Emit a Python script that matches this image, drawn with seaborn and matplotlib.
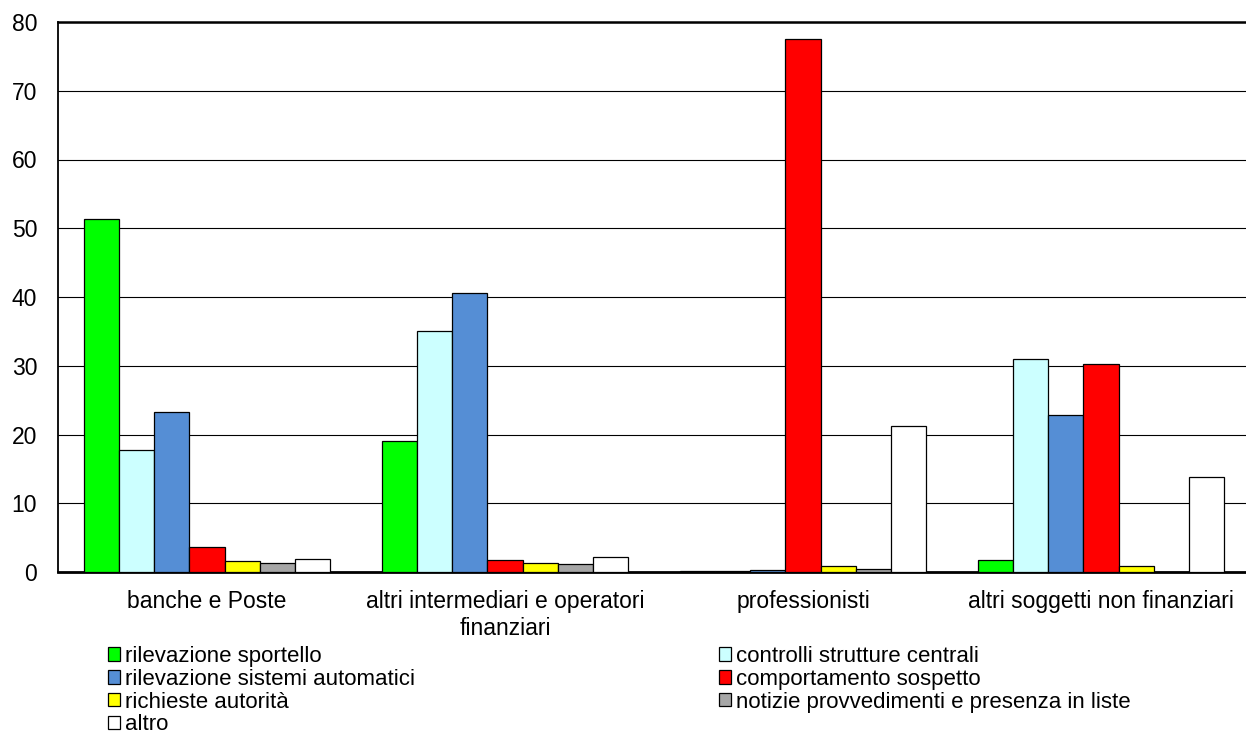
import matplotlib
matplotlib.use("Agg")
import matplotlib.pyplot as plt
import seaborn as sns
import pandas as pd

categories = ["banche e Poste", "altri intermediari e operatori\nfinanziari",
              "professionisti", "altri soggetti non finanziari"]
series = ["rilevazione sportello", "controlli strutture centrali",
          "rilevazione sistemi automatici", "comportamento sospetto",
          "richieste autorità", "notizie provvedimenti e presenza in liste",
          "altro"]
values = {
    "rilevazione sportello":                     [51.3, 19.1, 0.1, 1.75],
    "controlli strutture centrali":              [17.7, 35.1, 0.15, 31.0],
    "rilevazione sistemi automatici":            [23.3, 40.6, 0.3, 22.8],
    "comportamento sospetto":                    [3.6, 1.7, 77.5, 30.3],
    "richieste autorità":                        [1.55, 1.3, 0.85, 0.85],
    "notizie provvedimenti e presenza in liste": [1.25, 1.15, 0.45, 0.05],
    "altro":                                     [1.9, 2.2, 21.2, 13.8],
}
colors = ["#00FF00", "#CCFFFF", "#558ED5", "#FF0000", "#FFFF00", "#A6A6A6", "#FFFFFF"]
y_ticks = [0, 10, 20, 30, 40, 50, 60, 70, 80]

rows = []
for s in series:
    for c, v in zip(categories, values[s]):
        rows.append({"categoria": c, "serie": s, "valore": v})
df = pd.DataFrame(rows)

sns.set_style("white")
plt.rcParams["font.family"] = ["Liberation Sans", "DejaVu Sans"]
plt.rcParams["text.color"] = "black"
plt.rcParams["xtick.color"] = "black"
plt.rcParams["ytick.color"] = "black"

fig = plt.figure(figsize=(12.46, 7.42), dpi=100)
ax = fig.add_axes([58 / 1246, 1 - 572 / 742, 1192 / 1246, 550 / 742])

sns.barplot(data=df, x="categoria", y="valore", hue="serie",
            order=categories, hue_order=series, palette=colors,
            width=0.826, gap=0, edgecolor="black", linewidth=0.9,
            saturation=1, errorbar=None, ax=ax, legend=True, zorder=3)

ax.set_ylim(0, 80)
ax.set_yticks(y_ticks)
ax.set_xlim(-0.5, 3.5)
ax.yaxis.grid(True, color="black", linewidth=0.8, zorder=0)
ax.set_axisbelow(True)
ax.set_xlabel("")
ax.set_ylabel("")
ax.tick_params(axis="both", length=0, labelsize=16.5, colors="black")
ax.tick_params(axis="x", pad=13)
ax.tick_params(axis="y", pad=15)
for side in ["left", "bottom", "top"]:
    ax.spines[side].set_visible(True)
    ax.spines[side].set_color("black")
ax.spines["left"].set_linewidth(1.3)
ax.spines["bottom"].set_linewidth(2.0)
ax.spines["top"].set_linewidth(1.8)
ax.spines["right"].set_visible(False)

handles, labels = ax.get_legend_handles_labels()
ax.get_legend().remove()

leg_kw = dict(frameon=False, fontsize=16, handlelength=0.55, handleheight=0.55,
              handletextpad=0.2, labelspacing=0.08, borderaxespad=0, borderpad=0,
              loc="upper left")
for h in handles:
    h.set_linewidth(0.9)
    h.set_edgecolor("black")
left_idx = [0, 2, 4, 6]
right_idx = [1, 3, 5]
fig.legend([handles[i] for i in left_idx], [labels[i] for i in left_idx],
           bbox_to_anchor=(108 / 1246, 1 - 646 / 742), **leg_kw)
fig.legend([handles[i] for i in right_idx], [labels[i] for i in right_idx],
           bbox_to_anchor=(719 / 1246, 1 - 646 / 742), **leg_kw)

fig.savefig("out.png", dpi=100)
